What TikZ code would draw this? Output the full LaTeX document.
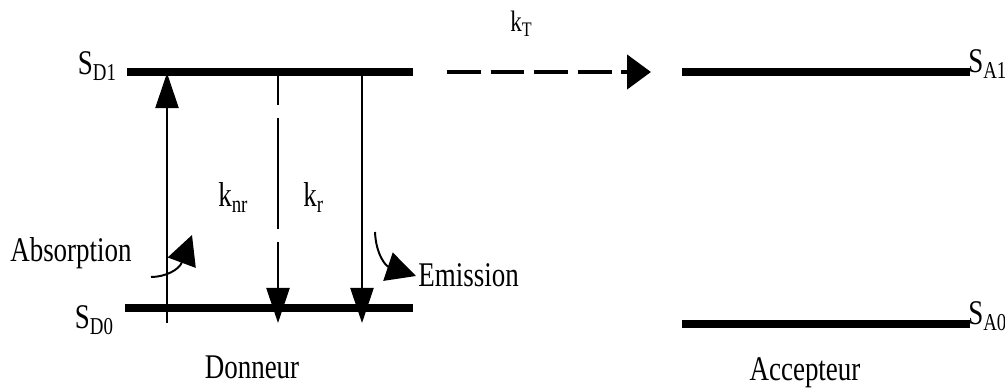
\documentclass[tikz,border=0pt]{standalone}
\usepackage{fontspec}
\setmainfont[FakeStretch=0.78]{Liberation Serif}
\usetikzlibrary{arrows.meta}

\begin{document}
\begin{tikzpicture}[x=0.025cm, y=-0.025cm,
  level/.style={line width=5pt},
  trans/.style={line width=1.4pt, -{Triangle[length=25pt, width=16.5pt]}},
  hook/.style={line width=1.4pt, -{Triangle[length=21pt, width=21pt]}},
  transfer/.style={line width=3.5pt, dash pattern=on 24pt off 7pt, -{Triangle[length=17pt, width=24pt]}},
  txt/.style={inner sep=0pt, font=\fontsize{24.6}{28}\selectfont}]
  \useasboundingbox (0,0) rectangle (1005,392);
  % niveaux du donneur
  \coordinate (d1l) at (127,72);
  \coordinate (d1r) at (413,72);
  \coordinate (d0l) at (125,308);
  \coordinate (d0r) at (413,308);
  \draw[level] (d1l) -- (d1r);
  \draw[level] (d0l) -- (d0r);
  % niveaux de l'accepteur
  \coordinate (a1l) at (682,72);
  \coordinate (a1r) at (970,72);
  \coordinate (a0l) at (682,324);
  \coordinate (a0r) at (970,324);
  \draw[level] (a1l) -- (a1r);
  \draw[level] (a0l) -- (a0r);
  % transitions du donneur
  \coordinate (abs0) at (167,323);
  \coordinate (abs1) at (167,73);
  \coordinate (nr1) at (278,72);
  \coordinate (nr0) at (278,323);
  \coordinate (r1) at (362,72);
  \coordinate (r0) at (362,323);
  \draw[trans] (abs0) -- (abs1);
  \draw[trans, dash pattern=on 79pt off 9.2pt, dash phase=55.5pt] (nr1) -- (nr0);
  \draw[trans] (r1) -- (r0);
  % transfert vers l'accepteur
  \coordinate (kt0) at (447,72);
  \coordinate (kt1) at (651,72);
  \draw[transfer] (kt0) -- (kt1);
  % petites fleches courbes
  \coordinate (hab0) at (151,277);
  \coordinate (hab1) at (192,235);
  \coordinate (hem0) at (375,232);
  \coordinate (hem1) at (416,276);
  \draw[hook] (hab0) .. controls (165,277) and (179,270) .. (hab1);
  \draw[hook] (hem0) .. controls (376,255) and (386,266) .. (hem1);
  % textes
  \node[txt, anchor=base east] (sd1) at (117,75) {S\textsubscript{D1}};
  \node[txt, anchor=base east] (sd0) at (114,329) {S\textsubscript{D0}};
  \node[txt, anchor=base west] (sa1) at (968,73) {S\textsubscript{A1}};
  \node[txt, anchor=base west] (sa0) at (968,325) {S\textsubscript{A0}};
  \node[txt, anchor=base west] (knr) at (218,207) {k\textsubscript{nr}};
  \node[txt, anchor=base west] (kr) at (303,207) {k\textsubscript{r}};
  \node[txt, anchor=base west, font=\fontsize{21}{24}\selectfont] (kt) at (510,32) {k\textsubscript{T}};
  \node[txt, anchor=base west] (absl) at (10,262) {Absorption};
  \node[txt, anchor=base west] (emis) at (418,287) {Emission};
  \node[txt, anchor=base] (don) at (252,378) {Donneur};
  \node[txt, anchor=base] (acc) at (805,380) {Accepteur};
\end{tikzpicture}
\end{document}
